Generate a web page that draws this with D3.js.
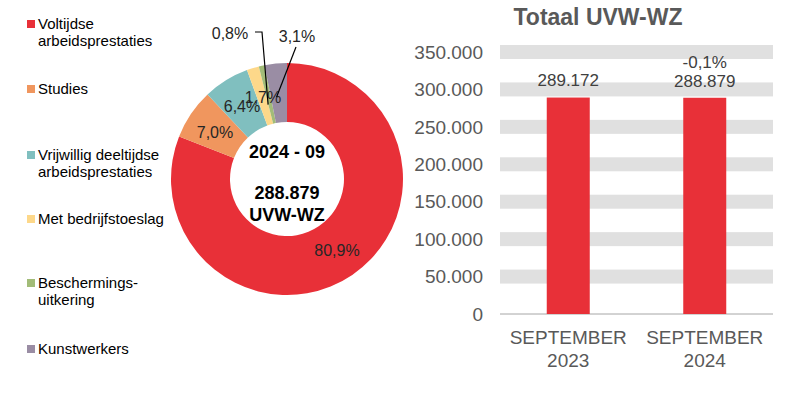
<!DOCTYPE html>
<html>
<head>
<meta charset="utf-8">
<script src="https://cdn.jsdelivr.net/npm/d3@7"></script>
<style>
  body { margin: 0; background: #fff; }
  svg { font-family: Arial, "Liberation Sans", sans-serif; }
</style>
</head>
<body>
<svg id="chart" width="799" height="397"></svg>
<script>
// data
var categories = ["Voltijdse arbeidsprestaties", "Studies", "Vrijwillig deeltijdse arbeidsprestaties",
                  "Met bedrijfstoeslag", "Beschermings-uitkering", "Kunstwerkers"];
var legendLines = [["Voltijdse", "arbeidsprestaties"], ["Studies"], ["Vrijwillig deeltijdse", "arbeidsprestaties"],
                   ["Met bedrijfstoeslag"], ["Beschermings-", "uitkering"], ["Kunstwerkers"]];
var shares = [80.9, 7.0, 6.4, 1.7, 0.8, 3.1];
var colors = ["#e83038", "#f0965e", "#80bfbf", "#fdd88a", "#a2bc78", "#9a8da4"];

var months = ["SEPTEMBER 2023", "SEPTEMBER 2024"];
var totals = [289172, 288879];
var changeLabels = ["", "-0,1%"];
var yTicks = [0, 50000, 100000, 150000, 200000, 250000, 300000, 350000];

var svg = d3.select("#chart");
var fmtNum = function(v) { return d3.format(",")(v).replace(/,/g, "."); };
var fmtPct = function(v) { return v.toFixed(1).replace(".", ",") + "%"; };

// legend
var legendY = [24, 89, 155, 219, 283, 349];
var lg = svg.append("g");
categories.forEach(function(c, i) {
  lg.append("rect").attr("x", 27).attr("y", legendY[i] - 4).attr("width", 8).attr("height", 8)
    .attr("fill", colors[i]);
  legendLines[i].forEach(function(t, j) {
    lg.append("text").attr("x", 38).attr("y", legendY[i] + j * 17).attr("dy", "0.35em")
      .attr("font-size", 15).attr("fill", "#000").text(t);
  });
});

// donut
var cx = 287, cy = 179, rOut = 116, rIn = 57;
var pie = d3.pie().sort(null).value(function(d) { return d; });
var arc = d3.arc().innerRadius(rIn).outerRadius(rOut);
var pg = svg.append("g").attr("transform", "translate(" + cx + "," + cy + ")");
var arcs = pie(shares);
pg.selectAll("path").data(arcs).enter().append("path")
  .attr("d", arc).attr("fill", function(d, i) { return colors[i]; });

// slice labels (two small slices get leader lines)
var labelPos = [[50, 71], [-72, -47], [-45, -73], [-24, -82], [-57, -146], [10, -143]];
arcs.forEach(function(d, i) {
  pg.append("text").attr("x", labelPos[i][0]).attr("y", labelPos[i][1]).attr("dy", "0.35em")
    .attr("text-anchor", "middle").attr("font-size", 16).attr("fill", "#262626")
    .text(fmtPct(shares[i]));
});
var c08 = arc.centroid(arcs[4]), c31 = arc.centroid(arcs[5]);
pg.append("path").attr("fill", "none").attr("stroke", "#000").attr("stroke-width", 1.2)
  .attr("d", "M" + (-32) + "," + (-147) + "L" + (-25) + "," + (-147) + "L" + c08[0] + "," + (c08[1] + 10));
pg.append("path").attr("fill", "none").attr("stroke", "#000").attr("stroke-width", 1.2)
  .attr("d", "M" + 9 + "," + (-132) + "L" + (c31[0] - 2) + "," + (c31[1] + 4));

pg.append("text").attr("y", -27).attr("dy", "0.35em").attr("text-anchor", "middle")
  .attr("font-size", 18).attr("font-weight", "bold").text("2024 - 09");
pg.append("text").attr("y", 14).attr("dy", "0.35em").attr("text-anchor", "middle")
  .attr("font-size", 18).attr("font-weight", "bold").text(fmtNum(totals[1]));
pg.append("text").attr("y", 36).attr("dy", "0.35em").attr("text-anchor", "middle")
  .attr("font-size", 18).attr("font-weight", "bold").text("UVW-WZ");

// bar chart
var x = d3.scaleBand().domain(months).range([500, 773]).padding(0);
var y = d3.scaleLinear().domain([0, 350000]).range([314, 52]);
var bg = svg.append("g");

bg.append("text").attr("x", 598).attr("y", 17).attr("dy", "0.35em").attr("text-anchor", "middle")
  .attr("font-size", 23).attr("font-weight", "bold").attr("fill", "#595959").text("Totaal UVW-WZ");

bg.selectAll(".band").data(yTicks.filter(function(t) { return t > 0; })).enter().append("rect")
  .attr("x", 500).attr("width", 273).attr("y", function(d) { return y(d) - 7; }).attr("height", 14)
  .attr("fill", "#e0e0e0");
bg.append("line").attr("x1", 500).attr("x2", 773).attr("y1", y(0)).attr("y2", y(0))
  .attr("stroke", "#a6a6a6").attr("stroke-width", 1);

bg.selectAll(".ytick").data(yTicks).enter().append("text")
  .attr("x", 483).attr("y", function(d) { return y(d); }).attr("dy", "0.35em")
  .attr("text-anchor", "end").attr("font-size", 19).attr("fill", "#595959")
  .text(function(d) { return fmtNum(d); });

var bw = 43;
bg.selectAll(".bar").data(totals).enter().append("rect")
  .attr("x", function(d, i) { return x(months[i]) + x.bandwidth() / 2 - bw / 2; })
  .attr("y", function(d) { return y(d); }).attr("width", bw)
  .attr("height", function(d) { return y(0) - y(d); }).attr("fill", "#e83038");

totals.forEach(function(d, i) {
  var mx = x(months[i]) + x.bandwidth() / 2;
  bg.append("text").attr("x", mx).attr("y", y(d) - 17).attr("dy", "0.35em").attr("text-anchor", "middle")
    .attr("font-size", 17).attr("fill", "#404040").text(fmtNum(d));
  if (changeLabels[i]) {
    bg.append("text").attr("x", mx).attr("y", y(d) - 36).attr("dy", "0.35em").attr("text-anchor", "middle")
      .attr("font-size", 17).attr("fill", "#404040").text(changeLabels[i]);
  }
  var parts = months[i].split(" ");
  parts.forEach(function(p, j) {
    bg.append("text").attr("x", mx).attr("y", 337 + j * 23).attr("dy", "0.35em").attr("text-anchor", "middle")
      .attr("font-size", 19).attr("fill", "#595959").text(p);
  });
});
</script>
</body>
</html>
